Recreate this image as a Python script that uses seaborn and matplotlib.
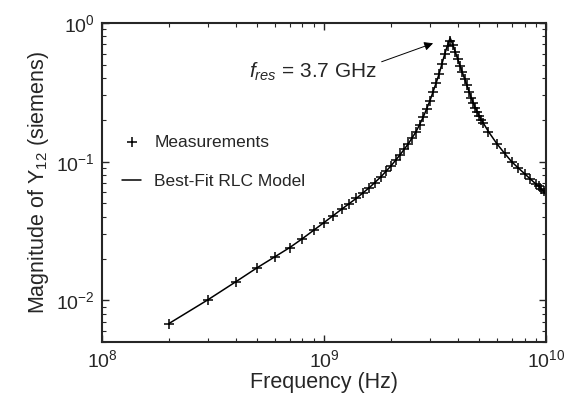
import matplotlib
matplotlib.use('Agg')
import matplotlib.pyplot as plt
import seaborn as sns
import pandas as pd
from matplotlib.ticker import LogLocator, NullFormatter

meas_freq_ghz = [0.2, 0.3, 0.4, 0.5, 0.6, 0.7, 0.8, 0.9, 1.0, 1.1, 1.2, 1.3, 1.4, 1.5,
                 1.6, 1.7, 1.8, 1.9, 2.0, 2.1, 2.2, 2.3, 2.4, 2.5, 2.6, 2.7, 2.8, 2.9,
                 3.0, 3.1, 3.2, 3.3, 3.4, 3.5, 3.6, 3.7, 3.8, 3.9, 4.0, 4.1, 4.2, 4.3,
                 4.4, 4.5, 4.6, 4.7, 4.8, 4.9, 5.0, 5.1, 5.2, 5.5, 6.0, 6.5, 7.0, 7.5,
                 8.0, 8.5, 9.0, 9.25, 9.5, 9.75, 10.0]
meas_mag = [0.0068, 0.0101, 0.0136, 0.0172, 0.0206, 0.0240, 0.0279, 0.0321, 0.0364,
            0.0406, 0.0454, 0.0499, 0.0545, 0.0598, 0.0650, 0.0707, 0.0775, 0.0850,
            0.093, 0.102, 0.112, 0.123, 0.135, 0.149, 0.165, 0.185, 0.21, 0.24,
            0.275, 0.32, 0.37, 0.43, 0.51, 0.60, 0.68, 0.74, 0.69, 0.62, 0.55,
            0.49, 0.44, 0.395, 0.355, 0.32, 0.29, 0.265, 0.245, 0.228, 0.213,
            0.200, 0.190, 0.165, 0.135, 0.115, 0.100, 0.090, 0.082, 0.075, 0.069,
            0.0665, 0.064, 0.0615, 0.059]

# Best-fit RLC model curve (frequency in GHz)
model_freq_ghz = [0.2, 0.3, 0.4, 0.5, 0.6, 0.7, 0.8, 0.9, 1.0, 1.2, 1.4, 1.6, 1.8, 2.0,
                  2.2, 2.4, 2.6, 2.8, 3.0, 3.1, 3.2, 3.3, 3.4, 3.5, 3.6, 3.7, 3.8, 3.9,
                  4.0, 4.1, 4.2, 4.3, 4.4, 4.6, 4.8, 5.0, 5.5, 6.0, 6.5, 7.0, 7.5, 8.0,
                  8.5, 9.0, 9.5, 10.0]
model_mag = [0.0068, 0.0101, 0.0136, 0.0172, 0.0206, 0.0240, 0.0279, 0.0321, 0.0364,
             0.0454, 0.0545, 0.0650, 0.0775, 0.093, 0.112, 0.135, 0.165, 0.21, 0.275,
             0.32, 0.37, 0.43, 0.51, 0.60, 0.69, 0.78, 0.70, 0.62, 0.55, 0.49, 0.44,
             0.395, 0.355, 0.29, 0.245, 0.213, 0.165, 0.135, 0.115, 0.100, 0.090,
             0.082, 0.075, 0.069, 0.064, 0.058]

meas_df = pd.DataFrame({'freq': [f * 1e9 for f in meas_freq_ghz], 'mag': meas_mag})
model_df = pd.DataFrame({'freq': [f * 1e9 for f in model_freq_ghz], 'mag': model_mag})

sns.set_style('ticks')
plt.rcParams['font.family'] = ['Liberation Sans', 'DejaVu Sans']
plt.rcParams['mathtext.fontset'] = 'custom'
plt.rcParams['mathtext.rm'] = 'Liberation Sans'
plt.rcParams['mathtext.it'] = 'Liberation Sans:italic'
plt.rcParams['mathtext.bf'] = 'Liberation Sans:bold'

fig, ax = plt.subplots(figsize=(5.76, 4.03), dpi=100)
fig.subplots_adjust(left=0.177, right=0.948, bottom=0.151, top=0.943)

sns.lineplot(data=model_df, x='freq', y='mag', ax=ax, color='black', linewidth=1.1,
             label='Best-Fit RLC Model')
sns.scatterplot(data=meas_df, x='freq', y='mag', ax=ax, marker='+', color='black',
                s=60, linewidth=1.1, label='Measurements')

ax.set_xscale('log')
ax.set_yscale('log')
ax.set_xlim(1e8, 1e10)
ax.set_ylim(5e-3, 1)
ax.xaxis.set_major_locator(LogLocator(base=10, numticks=10))
ax.yaxis.set_major_locator(LogLocator(base=10, numticks=10))
ax.xaxis.set_minor_locator(LogLocator(base=10, subs=range(2, 10), numticks=20))
ax.yaxis.set_minor_locator(LogLocator(base=10, subs=range(2, 10), numticks=20))
ax.xaxis.set_minor_formatter(NullFormatter())
ax.yaxis.set_minor_formatter(NullFormatter())

ax.set_xlabel('Frequency (Hz)', fontsize=15.5, labelpad=1)
ax.set_ylabel('Magnitude of Y$_{12}$ (siemens)', fontsize=15.5, labelpad=4)
ax.tick_params(which='both', direction='in', top=True, right=True, labelsize=14)
ax.tick_params(which='major', length=5, width=1, pad=5)
ax.tick_params(which='minor', length=3, width=0.8)
for sp in ax.spines.values():
    sp.set_linewidth(1.5)

ax.annotate('$f_{res}$ = 3.7 GHz', xy=(3.1e9, 0.714), xytext=(4.6e8, 0.40),
            fontsize=15, ha='left', va='baseline',
            arrowprops=dict(arrowstyle='-|>', color='black', lw=0.7,
                            mutation_scale=13, shrinkA=1, shrinkB=0,
                            relpos=(1.0, 0.9)))

handles, labels = ax.get_legend_handles_labels()
order = [labels.index('Measurements'), labels.index('Best-Fit RLC Model')]
ax.legend([handles[i] for i in order], [labels[i] for i in order],
          loc='center left', bbox_to_anchor=(0.01, 0.565), frameon=False,
          fontsize=12.5, handlelength=1.1, handletextpad=0.75, labelspacing=1.4)

plt.savefig('out.png', dpi=100)
plt.close()
